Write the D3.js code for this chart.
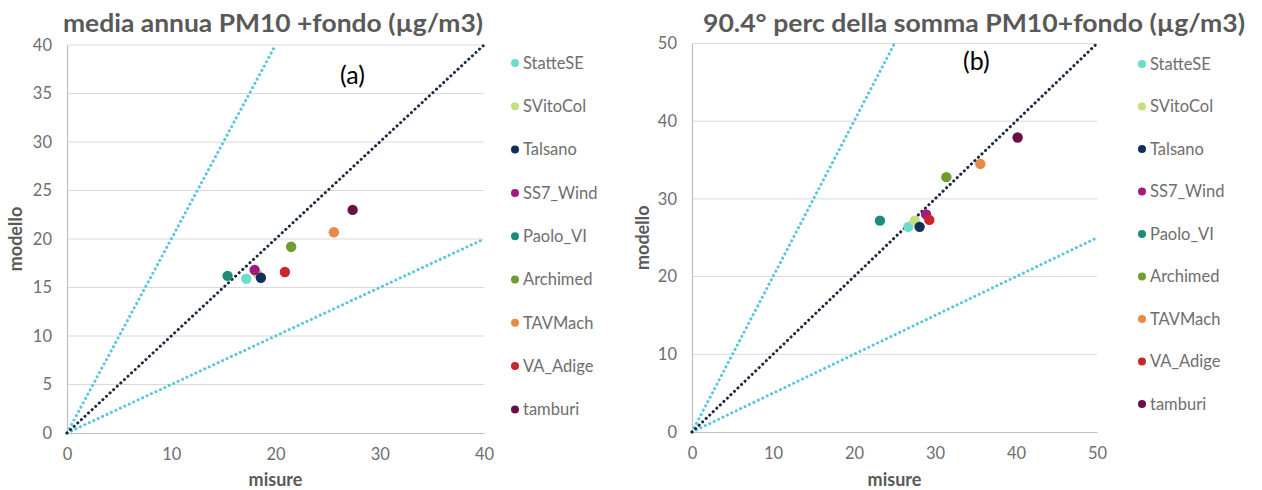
<!DOCTYPE html>
<html>
<head>
<meta charset="utf-8">
<script src="https://cdn.jsdelivr.net/npm/d3@7"></script>
<style>
  html, body { margin: 0; padding: 0; background: #ffffff; }
  svg { display: block; }
  text { font-family: Lato, "Noto Sans", sans-serif; }
</style>
</head>
<body>
<svg id="chart" width="1262" height="490"></svg>
<script>
// Stations (legend order) and their marker colours
const stations = ["StatteSE", "SVitoCol", "Talsano", "SS7_Wind", "Paolo_VI", "Archimed", "TAVMach", "VA_Adige", "tamburi"];
const stationColors = ["#6ddccb", "#c2e07e", "#10305a", "#a3197f", "#1c8c78", "#6f9d2f", "#e88a48", "#c8252e", "#6a0f47"];

// (a) annual mean PM10 + background
const misureA = [17.2, 18.3, 18.6, 18.0, 15.4, 21.5, 25.6, 20.9, 27.4];
const modelloA = [15.9, 16.4, 16.0, 16.8, 16.2, 19.2, 20.7, 16.6, 23.0];
const xTicksA = [0, 10, 20, 30, 40];
const yTicksA = [0, 5, 10, 15, 20, 25, 30, 35, 40];

// (b) 90.4th percentile of PM10 + background
const misureB = [26.7, 27.5, 28.1, 28.9, 23.2, 31.4, 35.6, 29.3, 40.2];
const modelloB = [26.4, 27.2, 26.4, 28.0, 27.2, 32.8, 34.5, 27.3, 37.9];
const xTicksB = [0, 10, 20, 30, 40, 50];
const yTicksB = [0, 10, 20, 30, 40, 50];

// Reference lines y = k·x (factor-of-two band around 1:1)
const slopes = [2, 0.5, 1];
const slopeColors = ["#5cc6df", "#5cc6df", "#1e2a45"];

const titles = ["media annua PM10 +fondo (\u00b5g/m3)", "90.4\u00b0 perc della somma PM10+fondo (\u00b5g/m3)"];
const panelTags = ["(a)", "(b)"];

const svg = d3.select("#chart");
const grey = "#595959";
const tickGrey = "#6e6e6e";

const panels = [
  { misure: misureA, modello: modelloA, xTicks: xTicksA, yTicks: yTicksA, max: 40,
    x0: 67, x1: 484, y0: 433, y1: 45, title: titles[0], titleX: 63, titleW: 420, titleY: 32,
    tag: panelTags[0], tagX: 340, tagY: 84, yTitleX: 22,
    legX: 515, legY: 63, legStep: 43.3 },
  { misure: misureB, modello: modelloB, xTicks: xTicksB, yTicks: yTicksB, max: 50,
    x0: 692, x1: 1097, y0: 432, y1: 43.5, title: titles[1], titleX: 703, titleW: 542, titleY: 32,
    tag: panelTags[1], tagX: 963, tagY: 70, yTitleX: 649,
    legX: 1142, legY: 64, legStep: 42.5 }
];

panels.forEach(p => {
  const x = d3.scaleLinear().domain([0, p.max]).range([p.x0, p.x1]);
  const y = d3.scaleLinear().domain([0, p.max]).range([p.y0, p.y1]);
  const g = svg.append("g");

  // horizontal gridlines
  g.append("g").selectAll("line").data(p.yTicks.filter(t => t > 0)).join("line")
    .attr("x1", p.x0).attr("x2", p.x1)
    .attr("y1", d => y(d)).attr("y2", d => y(d))
    .attr("stroke", "#d9d9d9").attr("stroke-width", 1);

  // axes
  const xAxis = g.append("g").attr("transform", `translate(0,${p.y0})`)
    .call(d3.axisBottom(x).tickValues(p.xTicks).tickSize(0).tickPadding(15));
  const yAxis = g.append("g").attr("transform", `translate(${p.x0},0)`)
    .call(d3.axisLeft(y).tickValues(p.yTicks).tickSize(0).tickPadding(15));
  [xAxis, yAxis].forEach(a => {
    a.select(".domain").attr("stroke", "#bfbfbf").attr("stroke-width", 1.2);
    a.selectAll("text").attr("fill", tickGrey).attr("font-size", 16.5)
      .attr("font-family", "Lato, 'Noto Sans', sans-serif");
  });

  // reference lines y = k·x, clipped to the plot square
  g.append("g").selectAll("line").data(slopes).join("line")
    .attr("x1", x(0)).attr("y1", y(0))
    .attr("x2", k => x(Math.min(p.max, p.max / k)))
    .attr("y2", k => y(Math.min(p.max, p.max * k)))
    .attr("stroke", (k, i) => slopeColors[i])
    .attr("stroke-width", 3)
    .attr("stroke-linecap", "round")
    .attr("stroke-dasharray", "0.1 4.8");

  // station markers
  g.append("g").selectAll("circle").data(stations).join("circle")
    .attr("cx", (s, i) => x(p.misure[i]))
    .attr("cy", (s, i) => y(p.modello[i]))
    .attr("r", 5.2)
    .attr("fill", (s, i) => stationColors[i]);

  // title
  g.append("text").attr("x", p.titleX).attr("y", p.titleY)
    .attr("textLength", p.titleW).attr("lengthAdjust", "spacingAndGlyphs")
    .attr("font-size", 24).attr("font-weight", "bold").attr("fill", grey)
    .text(p.title);

  // panel tag
  g.append("text").attr("x", p.tagX).attr("y", p.tagY)
    .attr("font-size", 25).attr("fill", "#000").attr("font-family", "Carlito, Calibri, 'Liberation Sans', sans-serif")
    .text(p.tag);

  // axis titles
  g.append("text").attr("x", (p.x0 + p.x1) / 2).attr("y", 486)
    .attr("text-anchor", "middle").attr("font-size", 18).attr("font-weight", "bold").attr("fill", grey)
    .text("misure");
  g.append("text")
    .attr("transform", `translate(${p.yTitleX},${(p.y0 + p.y1) / 2}) rotate(-90)`)
    .attr("text-anchor", "middle").attr("font-size", 18).attr("font-weight", "bold").attr("fill", grey)
    .text("modello");

  // legend
  const leg = g.append("g").selectAll("g").data(stations).join("g")
    .attr("transform", (s, i) => `translate(${p.legX},${p.legY + i * p.legStep})`);
  leg.append("circle").attr("r", 4).attr("fill", (s, i) => stationColors[i]);
  leg.append("text").attr("x", 8).attr("dy", "0.35em")
    .attr("font-size", 16.5).attr("fill", tickGrey).text(s => s);
});
</script>
</body>
</html>
